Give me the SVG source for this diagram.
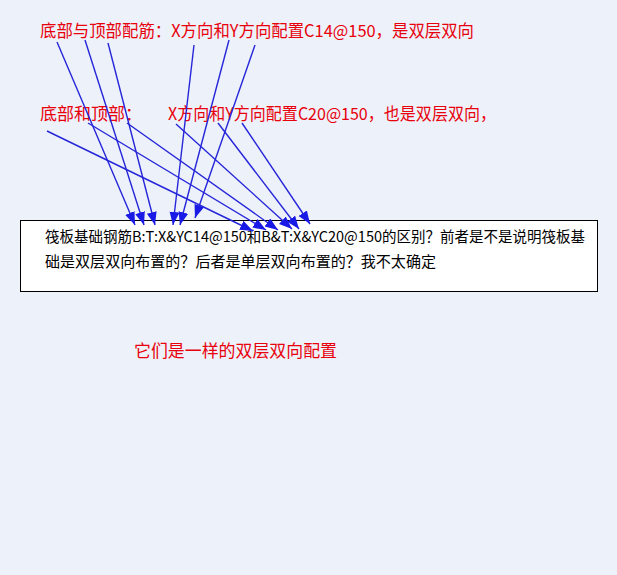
<svg xmlns="http://www.w3.org/2000/svg" width="617" height="575" viewBox="0 0 617 575">
<style>
.red{fill:#e8000b;font-family:"Noto Sans CJK SC","Liberation Serif",serif;font-size:17px}
.blk{fill:#000;font-family:"Noto Sans CJK SC","Liberation Serif",serif;font-size:15px}
.ln{stroke:#2626d9;stroke-width:1.4;fill:none;marker-end:url(#ah)}
</style>
<defs>
<marker id="ah" markerUnits="userSpaceOnUse" markerWidth="14" markerHeight="12" refX="13" refY="5" orient="auto">
<path d="M0,0 L13,5 L0,10 Z" fill="#1a1ae6"/>
</marker>
</defs>
<rect width="617" height="575" fill="#edf1fa"/>
<g id="label-top">
<text class="red" x="40" y="37" textLength="434" lengthAdjust="spacingAndGlyphs">底部与顶部配筋：X方向和Y方向配置C14@150，是双层双向</text>
</g>
<g id="label-mid">
<text class="red" y="120"><tspan x="40">底部和顶部：</tspan><tspan x="168" textLength="328" lengthAdjust="spacingAndGlyphs">X方向和Y方向配置C20@150，也是双层双向，</tspan></text>
</g>
<g id="box">
<rect x="20.5" y="220.5" width="577" height="71" fill="#fff" stroke="#000" stroke-width="1"/>
<text class="blk" x="45" y="242" textLength="540" lengthAdjust="spacingAndGlyphs">筏板基础钢筋B:T:X&amp;YC14@150和B&amp;T:X&amp;YC20@150的区别？前者是不是说明筏板基</text>
<text class="blk" x="45" y="267" textLength="391" lengthAdjust="spacingAndGlyphs">础是双层双向布置的？后者是单层双向布置的？我不太确定</text>
</g>
<g id="connectors">
<line class="ln" x1="57" y1="42" x2="135" y2="225"/>
<line class="ln" x1="85" y1="40" x2="144" y2="225"/>
<line class="ln" x1="108" y1="43" x2="155" y2="225"/>
<line class="ln" x1="194" y1="45" x2="173" y2="225"/>
<line class="ln" x1="229" y1="40" x2="180" y2="225"/>
<line class="ln" x1="255" y1="45" x2="195" y2="218"/>
<line class="ln" x1="47" y1="131" x2="253" y2="231"/>
<line class="ln" x1="88" y1="123" x2="266" y2="230"/>
<line class="ln" x1="127" y1="123" x2="278" y2="230"/>
<line class="ln" x1="176" y1="124" x2="292" y2="229"/>
<line class="ln" x1="218" y1="123" x2="299" y2="229"/>
<line class="ln" x1="242" y1="123" x2="310" y2="224"/>
</g>
<g id="answer">
<text class="red" x="134" y="357" textLength="203" lengthAdjust="spacingAndGlyphs">它们是一样的双层双向配置</text>
</g>
</svg>
